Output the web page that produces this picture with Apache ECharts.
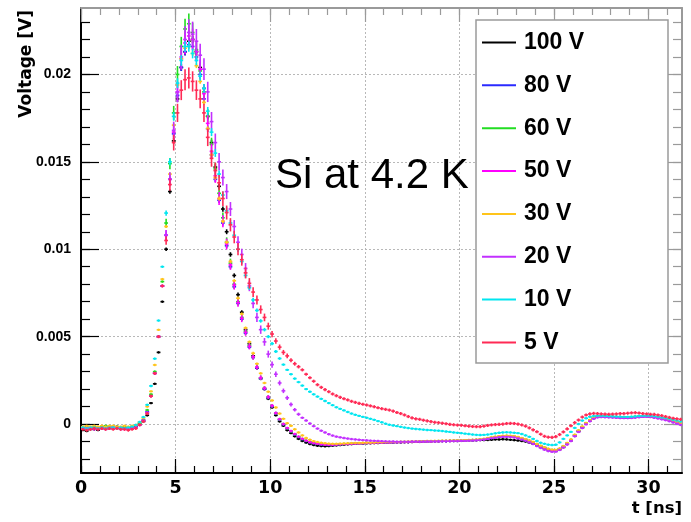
<!DOCTYPE html>
<html>
<head>
<meta charset="utf-8">
<script src="https://cdn.jsdelivr.net/npm/echarts@6/dist/echarts.min.js"></script>
<style>
html,body{margin:0;padding:0;background:#fff;}
#chart{width:691px;height:522px;}
</style>
</head>
<body>
<div id="chart"></div>
<script>
// ---- data (voltages in mV, converted to V when building the chart) ----
const seriesNames = ['100 V','80 V','60 V','50 V','30 V','20 V','10 V','5 V'];
const seriesColors = ['#000000','#2a2aff','#22dd22','#ff00ff','#ffc41a','#c230ff','#00e6f0','#ff2a55'];
// bin centres: first bin centre and bin width in ns
const tFirst = 0.1, tStep = 0.2, nBins = 159;

const v100 = [
-0.35,-0.4,-0.3,-0.3,-0.35,-0.25,-0.2,-0.25,-0.2,-0.15,
-0.2,-0.25,-0.25,-0.2,-0.15,-0.02,0.15,0.5,1.2,2.3,
4.1,7.0,10.0,13.3,16.2,18.6,20.4,21.3,21.9,22.0,
21.3,20.4,19.2,17.6,16.1,14.7,13.6,12.3,11.0,9.7,
8.5,7.4,6.4,5.4,4.6,3.9,3.2,2.6,2.0,1.45,
0.95,0.5,0.15,-0.1,-0.35,-0.52,-0.7,-0.85,-0.97,-1.06,
-1.14,-1.2,-1.24,-1.26,-1.27,-1.26,-1.24,-1.22,-1.2,-1.18,
-1.16,-1.15,-1.13,-1.12,-1.12,-1.1,-1.1,-1.09,-1.08,-1.07,
-1.07,-1.06,-1.06,-1.05,-1.05,-1.04,-1.04,-1.03,-1.02,-1.02,
-1.01,-1.0,-1.0,-0.99,-0.99,-0.98,-0.98,-0.97,-0.97,-0.97,
-0.96,-0.95,-0.94,-0.94,-0.93,-0.92,-0.92,-0.91,-0.9,-0.88,
-0.88,-0.87,-0.88,-0.9,-0.92,-0.94,-0.97,-1.0,-1.06,-1.13,
-1.22,-1.32,-1.4,-1.47,-1.52,-1.53,-1.45,-1.32,-1.15,-0.95,
-0.68,-0.42,-0.2,0.02,0.2,0.34,0.42,0.44,0.43,0.42,
0.41,0.4,0.38,0.37,0.36,0.38,0.4,0.42,0.43,0.44,
0.43,0.4,0.37,0.34,0.3,0.25,0.18,0.12,0.06];

const v80 = [
-0.25,-0.3,-0.25,-0.2,-0.25,-0.2,-0.2,-0.15,-0.2,-0.2,
-0.25,-0.2,-0.25,-0.2,-0.15,0.0,0.2,0.7,1.6,2.9,
5.0,7.9,10.8,14.0,16.6,18.8,20.4,21.3,21.7,21.6,
21.0,20.0,18.6,16.9,15.4,14.0,12.8,11.5,10.2,9.0,
7.85,6.9,6.0,5.2,4.4,3.8,3.2,2.6,2.0,1.5,
1.0,0.6,0.25,-0.02,-0.25,-0.42,-0.6,-0.75,-0.87,-0.97,
-1.05,-1.1,-1.14,-1.17,-1.19,-1.2,-1.2,-1.19,-1.17,-1.15,
-1.14,-1.12,-1.11,-1.1,-1.1,-1.09,-1.08,-1.07,-1.07,-1.06,
-1.06,-1.05,-1.05,-1.04,-1.04,-1.03,-1.03,-1.02,-1.01,-1.01,
-1.0,-1.0,-0.99,-0.98,-0.98,-0.97,-0.97,-0.96,-0.96,-0.95,
-0.95,-0.94,-0.93,-0.92,-0.91,-0.9,-0.87,-0.84,-0.8,-0.76,
-0.73,-0.71,-0.7,-0.7,-0.72,-0.78,-0.84,-0.9,-0.98,-1.06,
-1.18,-1.28,-1.37,-1.45,-1.5,-1.52,-1.43,-1.3,-1.12,-0.92,
-0.65,-0.4,-0.18,0.03,0.2,0.34,0.42,0.44,0.43,0.42,
0.41,0.39,0.38,0.37,0.37,0.38,0.4,0.42,0.44,0.45,
0.43,0.4,0.37,0.33,0.29,0.24,0.18,0.12,0.05];

const v60 = [
-0.2,-0.15,-0.2,-0.15,-0.2,-0.15,-0.1,-0.15,-0.2,-0.15,
-0.2,-0.15,-0.2,-0.15,-0.1,0.05,0.25,0.8,1.7,3.0,
5.0,8.15,11.5,14.9,17.8,20.0,21.6,22.6,22.9,22.4,
21.4,20.2,19.0,17.6,16.0,14.6,13.2,11.8,10.4,9.2,
8.0,7.0,6.1,5.3,4.5,3.85,3.25,2.65,2.05,1.55,
1.05,0.62,0.27,0.0,-0.24,-0.42,-0.58,-0.73,-0.85,-0.95,
-1.03,-1.08,-1.12,-1.15,-1.17,-1.18,-1.18,-1.17,-1.16,-1.14,
-1.13,-1.12,-1.11,-1.1,-1.09,-1.09,-1.08,-1.07,-1.06,-1.06,
-1.05,-1.05,-1.04,-1.04,-1.03,-1.03,-1.02,-1.02,-1.01,-1.0,
-1.0,-0.99,-0.99,-0.98,-0.97,-0.97,-0.96,-0.96,-0.95,-0.95,
-0.94,-0.93,-0.92,-0.91,-0.9,-0.88,-0.86,-0.82,-0.78,-0.74,
-0.71,-0.69,-0.68,-0.69,-0.71,-0.76,-0.82,-0.88,-0.96,-1.04,
-1.16,-1.26,-1.35,-1.43,-1.48,-1.5,-1.42,-1.28,-1.1,-0.9,
-0.63,-0.38,-0.16,0.05,0.22,0.36,0.44,0.46,0.45,0.44,
0.42,0.41,0.4,0.39,0.39,0.4,0.42,0.44,0.46,0.47,
0.45,0.42,0.39,0.35,0.31,0.26,0.2,0.14,0.07];

const v50 = [
-0.25,-0.2,-0.25,-0.3,-0.2,-0.25,-0.2,-0.2,-0.25,-0.2,
-0.25,-0.3,-0.25,-0.25,-0.2,-0.05,0.2,0.65,1.6,2.9,
5.0,7.9,10.8,14.0,16.7,19.0,20.9,21.8,22.2,22.0,
21.3,20.3,18.9,17.2,15.6,14.2,12.9,11.6,10.3,9.1,
7.95,6.95,6.05,5.25,4.45,3.85,3.25,2.65,2.05,1.55,
1.05,0.63,0.28,0.0,-0.23,-0.4,-0.57,-0.72,-0.84,-0.95,
-1.04,-1.09,-1.13,-1.16,-1.18,-1.19,-1.19,-1.18,-1.16,-1.15,
-1.14,-1.13,-1.12,-1.11,-1.1,-1.09,-1.09,-1.08,-1.07,-1.07,
-1.06,-1.06,-1.05,-1.05,-1.04,-1.04,-1.03,-1.02,-1.02,-1.01,
-1.01,-1.0,-1.0,-0.99,-0.99,-0.98,-0.97,-0.97,-0.96,-0.96,
-0.95,-0.94,-0.93,-0.92,-0.91,-0.89,-0.87,-0.83,-0.79,-0.75,
-0.72,-0.7,-0.69,-0.7,-0.72,-0.77,-0.83,-0.89,-0.97,-1.05,
-1.17,-1.28,-1.37,-1.45,-1.5,-1.53,-1.45,-1.31,-1.13,-0.93,
-0.66,-0.41,-0.19,0.02,0.2,0.33,0.41,0.43,0.42,0.41,
0.4,0.38,0.37,0.36,0.36,0.37,0.39,0.41,0.43,0.44,
0.42,0.39,0.36,0.32,0.28,0.22,0.16,0.1,0.03];

const v30 = [
-0.15,-0.1,-0.15,-0.1,-0.15,-0.1,-0.15,-0.1,-0.1,-0.15,
-0.15,-0.1,-0.15,-0.1,-0.05,0.1,0.35,1.0,1.87,3.38,
5.39,8.29,11.3,14.3,17.1,19.4,20.9,21.5,21.6,21.2,
20.5,19.6,18.4,16.9,15.4,14.1,12.9,11.6,10.4,9.3,
8.2,7.2,6.3,5.5,4.7,4.05,3.45,2.9,2.35,1.85,
1.35,0.95,0.6,0.3,0.05,-0.1,-0.3,-0.48,-0.65,-0.8,
-0.9,-0.98,-1.03,-1.07,-1.1,-1.12,-1.13,-1.13,-1.12,-1.11,
-1.1,-1.09,-1.08,-1.08,-1.07,-1.06,-1.06,-1.05,-1.04,-1.04,
-1.03,-1.03,-1.02,-1.02,-1.01,-1.01,-1.0,-0.99,-0.99,-0.98,
-0.98,-0.97,-0.97,-0.96,-0.96,-0.95,-0.95,-0.94,-0.94,-0.93,
-0.93,-0.92,-0.91,-0.9,-0.89,-0.87,-0.84,-0.8,-0.76,-0.72,
-0.69,-0.67,-0.66,-0.67,-0.69,-0.74,-0.8,-0.86,-0.94,-1.02,
-1.14,-1.24,-1.33,-1.41,-1.46,-1.48,-1.4,-1.26,-1.08,-0.88,
-0.61,-0.36,-0.14,0.06,0.23,0.36,0.43,0.45,0.44,0.43,
0.42,0.41,0.4,0.39,0.39,0.4,0.42,0.44,0.45,0.46,
0.44,0.41,0.38,0.34,0.3,0.25,0.19,0.13,0.07];

const v20 = [
-0.25,-0.3,-0.25,-0.25,-0.3,-0.25,-0.3,-0.25,-0.2,-0.25,
-0.3,-0.25,-0.3,-0.25,-0.2,-0.05,0.2,0.65,1.6,2.9,
5.0,7.9,10.8,14.0,16.8,19.0,21.0,22.0,22.4,22.3,
21.9,21.1,20.3,19.0,17.3,16.1,15.0,14.1,13.3,12.3,
11.3,10.4,9.7,8.9,7.9,6.9,6.1,5.4,4.7,4.0,
3.4,2.85,2.35,1.9,1.5,1.12,0.82,0.56,0.36,0.2,
0.03,-0.12,-0.26,-0.38,-0.48,-0.58,-0.66,-0.72,-0.76,-0.8,
-0.83,-0.86,-0.88,-0.9,-0.92,-0.93,-0.95,-0.96,-0.97,-0.98,
-0.99,-1.0,-1.0,-1.01,-1.01,-1.01,-1.01,-1.0,-1.0,-1.0,
-1.0,-0.99,-0.99,-0.99,-0.98,-0.98,-0.98,-0.97,-0.97,-0.97,
-0.96,-0.96,-0.95,-0.94,-0.93,-0.91,-0.88,-0.85,-0.81,-0.78,
-0.75,-0.73,-0.73,-0.74,-0.77,-0.82,-0.89,-0.96,-1.05,-1.14,
-1.26,-1.37,-1.47,-1.55,-1.59,-1.58,-1.48,-1.35,-1.17,-0.97,
-0.7,-0.45,-0.23,-0.02,0.16,0.3,0.38,0.4,0.39,0.38,
0.37,0.36,0.35,0.34,0.34,0.35,0.37,0.39,0.41,0.42,
0.4,0.36,0.32,0.27,0.22,0.16,0.09,0.02,-0.05];

const v10 = [
-0.2,-0.25,-0.2,-0.2,-0.25,-0.2,-0.25,-0.2,-0.2,-0.25,
-0.2,-0.25,-0.2,-0.15,-0.05,0.12,0.4,1.1,2.18,3.74,
5.92,9.0,12.07,15.0,17.6,19.5,20.8,21.6,21.6,21.2,
20.8,19.9,19.2,17.9,16.7,15.5,14.3,13.1,12.2,11.5,
10.8,10.0,9.3,8.5,7.8,7.1,6.5,5.9,5.4,5.0,
4.6,4.15,3.75,3.4,3.1,2.85,2.6,2.4,2.2,2.0,
1.85,1.7,1.57,1.44,1.32,1.2,1.08,0.96,0.87,0.78,
0.69,0.6,0.53,0.47,0.41,0.36,0.3,0.24,0.17,0.1,
0.02,-0.04,-0.08,-0.12,-0.16,-0.2,-0.23,-0.26,-0.28,-0.3,
-0.32,-0.34,-0.35,-0.37,-0.38,-0.4,-0.43,-0.45,-0.48,-0.5,
-0.52,-0.55,-0.57,-0.6,-0.62,-0.63,-0.62,-0.6,-0.57,-0.53,
-0.5,-0.48,-0.47,-0.48,-0.5,-0.52,-0.57,-0.65,-0.73,-0.85,
-0.97,-1.07,-1.13,-1.18,-1.2,-1.18,-1.05,-0.85,-0.65,-0.45,
-0.22,0.0,0.2,0.33,0.42,0.46,0.48,0.47,0.46,0.45,
0.44,0.43,0.42,0.41,0.41,0.42,0.44,0.46,0.47,0.48,
0.47,0.45,0.42,0.38,0.34,0.3,0.25,0.2,0.15];

const v5 = [
-0.3,-0.35,-0.3,-0.25,-0.3,-0.25,-0.3,-0.25,-0.3,-0.25,
-0.3,-0.3,-0.35,-0.3,-0.25,-0.05,0.15,0.6,1.6,2.9,
5.0,7.9,10.5,13.7,16.1,17.8,19.1,19.7,19.8,19.6,
19.1,18.6,17.8,16.4,15.2,14.5,13.8,12.9,12.1,11.4,
10.7,10.0,9.4,8.65,8.05,7.55,7.1,6.55,6.1,5.6,
5.15,4.75,4.4,4.1,3.9,3.65,3.45,3.28,3.1,2.85,
2.65,2.45,2.25,2.1,1.97,1.85,1.72,1.62,1.53,1.45,
1.38,1.3,1.24,1.18,1.13,1.09,1.04,0.99,0.93,0.88,
0.84,0.8,0.74,0.66,0.6,0.52,0.43,0.35,0.3,0.27,
0.22,0.18,0.14,0.1,0.08,0.05,0.02,-0.02,-0.04,-0.06,
-0.07,-0.1,-0.12,-0.14,-0.15,-0.15,-0.12,-0.08,-0.05,-0.03,
-0.02,0.0,0.03,0.04,0.03,0.0,-0.05,-0.12,-0.22,-0.33,
-0.44,-0.58,-0.7,-0.75,-0.76,-0.72,-0.6,-0.45,-0.28,-0.1,
0.08,0.23,0.4,0.52,0.58,0.61,0.6,0.58,0.57,0.56,
0.57,0.58,0.6,0.6,0.62,0.64,0.65,0.63,0.6,0.58,
0.56,0.55,0.52,0.48,0.43,0.38,0.33,0.3,0.27];

// error bars (mV): explicit values for bins 22..57 (t = 4.5 .. 11.5 ns), floor elsewhere
const errFirstBin = 22;
const e100 = [0.1,0.12,0.15,0.18,0.2,0.2,0.2,0.2, 0.2,0.2,0.18,0.18,0.17,0.16,0.15,0.15, 0.14,0.13,0.12,0.12,0.11,0.1,0.1,0.1, 0.09,0.09,0.08,0.08,0.08,0.07,0.07,0.07, 0.07,0.06,0.06,0.06];
const e80  = [0.1,0.12,0.15,0.18,0.2,0.22,0.22,0.22, 0.22,0.2,0.2,0.18,0.17,0.16,0.15,0.14, 0.13,0.13,0.12,0.11,0.1,0.1,0.1,0.09, 0.09,0.08,0.08,0.08,0.07,0.07,0.07,0.07, 0.06,0.06,0.06,0.06];
const e60  = [0.25,0.32,0.4,0.48,0.55,0.58,0.58,0.56, 0.52,0.48,0.45,0.42,0.38,0.35,0.32,0.3, 0.28,0.26,0.24,0.22,0.2,0.18,0.17,0.16, 0.15,0.13,0.12,0.11,0.1,0.09,0.08,0.08, 0.07,0.07,0.07,0.06];
const e50  = [0.28,0.35,0.45,0.55,0.62,0.65,0.65,0.62, 0.58,0.55,0.52,0.48,0.44,0.4,0.37,0.34, 0.31,0.28,0.26,0.24,0.22,0.2,0.18,0.17, 0.15,0.13,0.12,0.11,0.1,0.09,0.08,0.08, 0.07,0.07,0.07,0.06];
const e30  = [0.08,0.1,0.12,0.14,0.15,0.15,0.15,0.15, 0.14,0.14,0.13,0.13,0.12,0.12,0.11,0.11, 0.1,0.1,0.09,0.09,0.09,0.08,0.08,0.08, 0.07,0.07,0.07,0.07,0.06,0.06,0.06,0.06, 0.06,0.06,0.05,0.05];
const e20  = [0.3,0.4,0.5,0.6,0.7,0.75,0.75,0.72, 0.7,0.66,0.62,0.58,0.55,0.52,0.5,0.46, 0.43,0.4,0.37,0.35,0.33,0.31,0.3,0.28, 0.26,0.24,0.22,0.2,0.18,0.16,0.14,0.13, 0.12,0.11,0.1,0.09];
const e10  = [0.15,0.2,0.25,0.28,0.3,0.3,0.3,0.28, 0.27,0.26,0.25,0.24,0.23,0.22,0.21,0.2, 0.19,0.18,0.17,0.16,0.15,0.14,0.13,0.12, 0.11,0.1,0.1,0.09,0.09,0.08,0.08,0.07, 0.07,0.07,0.06,0.06];
const e5   = [0.25,0.35,0.45,0.52,0.57,0.6,0.6,0.58, 0.56,0.54,0.52,0.5,0.48,0.46,0.44,0.42, 0.4,0.38,0.36,0.35,0.34,0.32,0.3,0.28, 0.26,0.24,0.22,0.2,0.18,0.16,0.15,0.14, 0.13,0.12,0.11,0.1];
const errFloor = [0.05,0.05,0.05,0.05,0.05,0.06,0.03,0.09];

const xTicks = [0,5,10,15,20,25,30];
const xMinorTicks = [0,1,2,3,4,5,6,7,8,9,10,11,12,13,14,15,16,17,18,19,20,21,22,23,24,25,26,27,28,29,30,31];
const yTicks = [0,0.005,0.01,0.015,0.02];
const yMinorTicks = [-0.002,-0.001,0,0.001,0.002,0.003,0.004,0.005,0.006,0.007,0.008,0.009,0.01,0.011,0.012,0.013,0.014,0.015,0.016,0.017,0.018,0.019,0.02,0.021,0.022,0.023];
const xMin = 0, xMax = 31.77, yMin = -0.0028, yMax = 0.0238;

// ---- build ----
const values = [v100,v80,v60,v50,v30,v20,v10,v5];
const errors = [e100,e80,e60,e50,e30,e20,e10,e5];
const MV = 0.001;

function buildData(s){
  const out = [];
  for (let k = 0; k < nBins; k++){
    const t = +(tFirst + tStep*k).toFixed(2);
    const j = k - errFirstBin;
    const e = (j >= 0 && j < errors[s].length) ? errors[s][j] : errFloor[s];
    out.push([t, values[s][k]*MV, e*MV]);
  }
  return out;
}

const FONT = 'Liberation Sans, Arial, sans-serif';
const FONT2 = 'DejaVu Sans, Verdana, sans-serif';
const chart = echarts.init(document.getElementById('chart'), null, {renderer:'canvas'});

function makeRender(color){
  return function(params, api){
    const t = api.value(0), v = api.value(1), e = api.value(2);
    const c = api.coord([t, v]);
    const hi = api.coord([t, v+e]), lo = api.coord([t, v-e]);
    const l = api.coord([t - tStep/2, v]), r = api.coord([t + tStep/2, v]);
    let y1 = hi[1], y2 = lo[1];
    if (y2 - y1 < 2.4){ y1 = c[1]-1.2; y2 = c[1]+1.2; }
    return {type:'group', children:[
      {type:'line', shape:{x1:c[0], y1:y1, x2:c[0], y2:y2}, style:{stroke:color, lineWidth:1.6}},
      {type:'line', shape:{x1:l[0], y1:c[1], x2:r[0], y2:c[1]}, style:{stroke:color, lineWidth:1.6}}
    ]};
  };
}

const series = seriesNames.map((name, s) => ({
  name: name,
  type: 'custom',
  xAxisIndex: 0, yAxisIndex: 0,
  clip: true,
  itemStyle: {color: seriesColors[s]},
  encode: {x: 0, y: 1},
  renderItem: makeRender(seriesColors[s]),
  data: buildData(s),
  z: 3
}));

const gridBox = {left: 81, top: 8, right: 9, bottom: 49, containLabel: false};

function xAx(grid, pos, major, color){
  return {
    type:'value', gridIndex: grid, position: pos, min: xMin, max: xMax,
    axisLine: {show: major, onZero:false, lineStyle:{color: color, width: 2}},
    axisTick: {show:true, inside:true, length: major ? 14 : 7, customValues: major ? xTicks : xMinorTicks,
               lineStyle:{color: color, width: 1.2}},
    axisLabel: {show: major && pos === 'bottom', customValues: xTicks, margin: 6,
                fontFamily: FONT2, fontWeight:'bold', fontSize: 17.5, color:'#000'},
    splitLine: {show: major && pos === 'bottom', lineStyle:{color:'#b8b8b8', type:[2,2], width:1}}
  };
}
function yAx(grid, pos, major, color){
  return {
    type:'value', gridIndex: grid, position: pos, min: yMin, max: yMax,
    axisLine: {show: major, onZero:false, lineStyle:{color: color, width: 2}},
    axisTick: {show:true, inside:true, length: major ? 18 : 9, customValues: major ? yTicks : yMinorTicks,
               lineStyle:{color: color, width: 1.2}},
    axisLabel: {show: major && pos === 'left', customValues: yTicks, margin: 10,
                fontFamily: FONT, fontWeight:'bold', fontSize: 14, color:'#000'},
    splitLine: {show: major && pos === 'left', lineStyle:{color:'#b8b8b8', type:[2,2], width:1}}
  };
}

const option = {
  backgroundColor: '#ffffff',
  animation: false,
  grid: [Object.assign({}, gridBox), Object.assign({}, gridBox)],
  xAxis: [
    xAx(0,'bottom',true,'#000'),
    xAx(0,'top',true,'#9a9a9a'),
    xAx(1,'bottom',false,'#000'),
    xAx(1,'top',false,'#9a9a9a')
  ],
  yAxis: [
    yAx(0,'left',true,'#000'),
    yAx(0,'right',true,'#9a9a9a'),
    yAx(1,'left',false,'#000'),
    yAx(1,'right',false,'#9a9a9a')
  ],
  legend: {
    orient: 'vertical', left: 477, top: 26, z: 20,
    itemWidth: 34, itemHeight: 2, itemGap: 19.85, icon: 'rect',
    selectedMode: false,
    textStyle: {fontFamily: FONT, fontWeight:'bold', fontSize: 23, color:'#000', padding:[0,0,0,3]},
    data: seriesNames.map((n, s) => ({name: n, itemStyle:{color: seriesColors[s]}}))
  },
  graphic: [
    {type:'rect', z: 10, shape:{x:476, y:20, width:192, height:343},
     style:{fill:'#ffffff', stroke:'#9a9a9a', lineWidth:1.5}},
    {type:'text', z: 10, x: 275, y: 176,
     style:{text:'Si at 4.2 K', fontFamily: FONT, fontSize: 42, fill:'#000', textVerticalAlign:'middle', textAlign:'left'}},
    {type:'text', z: 10, x: 27, y: 10, rotation: Math.PI/2,
     style:{text:'Voltage [V]', fontFamily: FONT2, fontWeight:'bold', fontSize: 17, fill:'#000', textAlign:'right', textVerticalAlign:'middle'}},
    {type:'text', z: 10, x: 682, y: 509,
     style:{text:'t [ns]', fontFamily: FONT2, fontWeight:'bold', fontSize: 16.5, fill:'#000', textAlign:'right', textVerticalAlign:'middle'}}
  ],
  series: series
};
chart.setOption(option);
</script>
</body>
</html>
